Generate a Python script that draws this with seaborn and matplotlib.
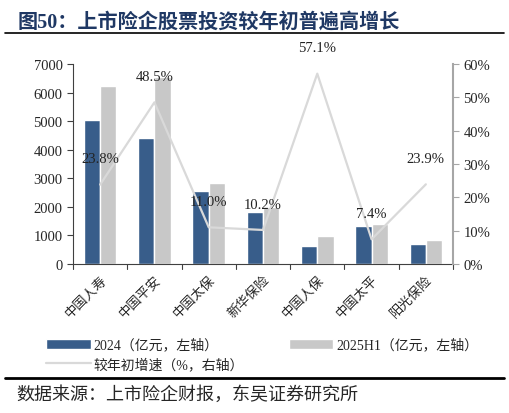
import matplotlib
matplotlib.use("Agg")
import matplotlib.pyplot as plt
import numpy as np
import pandas as pd
import seaborn as sns
from matplotlib.lines import Line2D

# data
companies = ["中国人寿", "中国平安", "中国太保", "新华保险", "中国人保", "中国太平", "阳光保险"]
val_2024 = [5030, 4400, 2570, 1810, 615, 1320, 690]
val_2025h1 = [6225, 6535, 2850, 1995, 965, 1415, 855]
growth = [23.8, 48.5, 11.0, 10.2, 57.1, 7.4, 23.9]
series_names = ["2024（亿元，左轴）", "2025H1（亿元，左轴）"]
line_name = "较年初增速（%，右轴）"

sns.set_style("white")
fonts = ["Liberation Serif", "Noto Sans CJK SC"]
plt.rcParams["font.family"] = fonts

df = pd.DataFrame({
    "company": companies * 2,
    "value": val_2024 + val_2025h1,
    "series": [series_names[0]] * 7 + [series_names[1]] * 7,
})

fig = plt.figure(figsize=(5.09, 4.14), dpi=100)
ax = fig.add_axes([0.1434, 0.36, 0.7466, 0.483])

sns.barplot(data=df, x="company", y="value", hue="series", ax=ax,
            palette=["#385D8A", "#C8C8C8"], width=0.6, saturation=1,
            errorbar=None, legend=True)
handles, labels = ax.get_legend_handles_labels()
ax.get_legend().remove()

ax.set_ylim(0, 7000)
ax.set_yticks(np.arange(0, 7001, 1000))
ax.set_xlim(-0.5, len(companies) - 0.5)
ax.set_xlabel("")
ax.set_ylabel("")
ax.set_xticks(np.arange(len(companies)))
ax.set_xticklabels(companies, rotation=45, ha="right", rotation_mode="anchor",
                   fontsize=9.5, family=["Noto Sans CJK SC"])
ax.tick_params(axis="x", length=0, pad=6)
# boundary ticks between categories
for xb in np.arange(-0.5, len(companies), 1.0):
    ax.plot([xb, xb], [0, -0.025], transform=ax.get_xaxis_transform(),
            color="#404040", lw=0.8, clip_on=False)
ax.tick_params(axis="y", direction="out", length=4, width=0.8, labelsize=10.5,
               left=True, color="#404040")
for s in ["top", "right"]:
    ax.spines[s].set_visible(False)
ax.spines["left"].set_color("#404040")
ax.spines["bottom"].set_color("#404040")

ax2 = ax.twinx()
sns.lineplot(x=np.arange(len(companies)), y=growth, ax=ax2, color="#D9D9D9",
             lw=1.6, legend=False)
ax2.set_ylim(0, 60)
ax2.set_yticks(np.arange(0, 61, 10))
ax2.set_yticklabels([f"{v}%" for v in range(0, 61, 10)])
ax2.tick_params(axis="y", direction="out", length=4, width=0.8, labelsize=10.5,
                right=True, color="#A6A6A6")
for s in ["top", "left", "bottom"]:
    ax2.spines[s].set_visible(False)
ax2.spines["right"].set_color("#A6A6A6")
ax2.spines["right"].set_linewidth(1.5)
for i, g in enumerate(growth):
    ax2.annotate(f"{g:.1f}%", (i, g), xytext=(0, 14), textcoords="offset points",
                 ha="center", va="bottom", fontsize=10.5, color="#222222")
ax2.set_xlim(-0.5, len(companies) - 0.5)

line_handle = Line2D([], [], color="#D9D9D9", lw=1.6)
fig.legend([handles[0], line_handle, handles[1]], [labels[0], line_name, labels[1]],
           ncol=2, loc="lower left", bbox_to_anchor=(0.08, 0.088, 0.87, 0.09),
           mode="expand", frameon=False, handlelength=3.2,
           handleheight=0.7, handletextpad=0.2, borderaxespad=0, labelspacing=0.4,
           prop={"family": fonts, "size": 10})

fig.text(0.035, 0.945, "图50：上市险企股票投资较年初普遍高增长", fontsize=14.5,
         fontweight="bold", color="#1F3864", family=fonts, va="center")
fig.add_artist(Line2D([0.01, 0.99], [0.918, 0.918], color="black", lw=1.2))
fig.add_artist(Line2D([0.01, 0.99], [0.085, 0.085], color="black", lw=2))
fig.text(0.033, 0.045, "数据来源：上市险企财报，东吴证券研究所", fontsize=13,
         family=fonts, va="center")

fig.savefig("out.png", dpi=100)
